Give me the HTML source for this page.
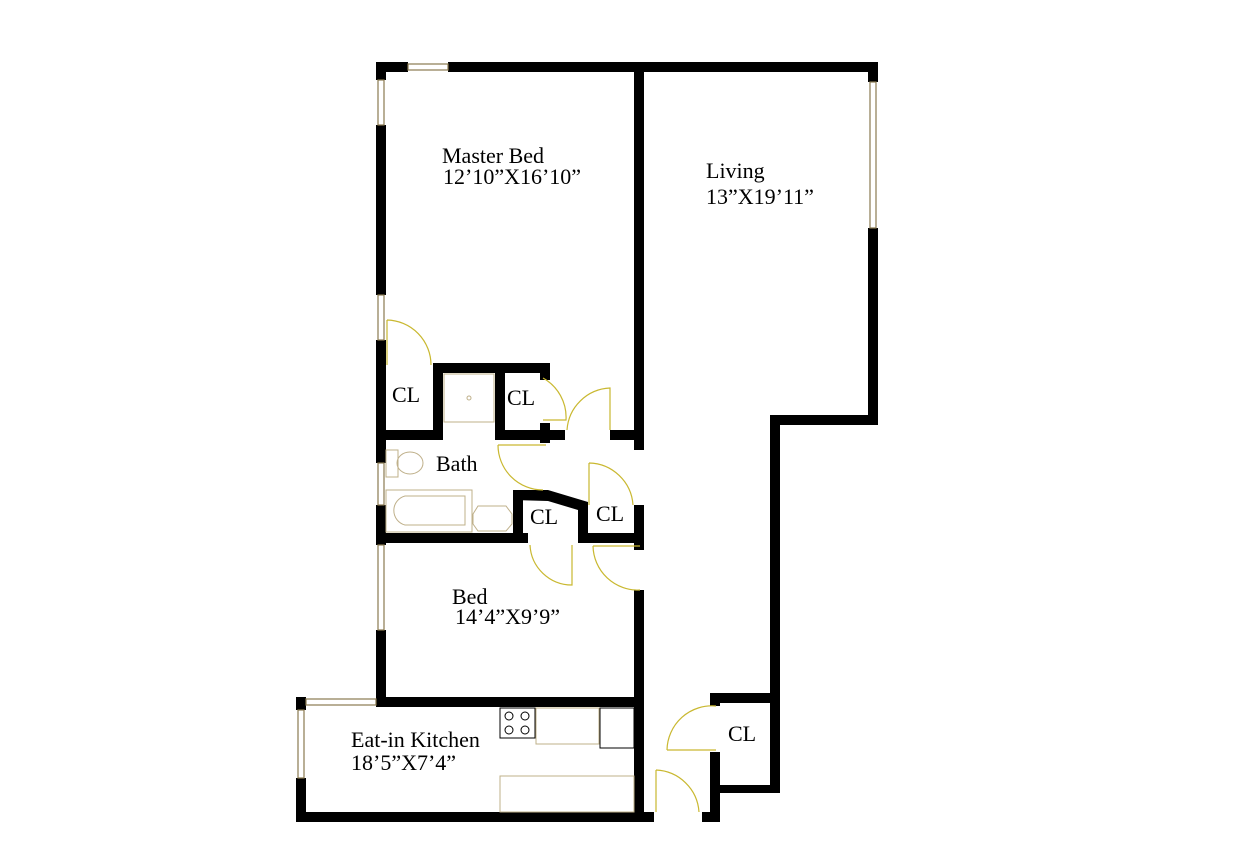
<!DOCTYPE html>
<html><head><style>body{margin:0;background:#fff}svg{display:block}text{font-family:"Liberation Serif",serif;font-size:22px;fill:#000}</style></head>
<body>
<svg width="1256" height="844" viewBox="0 0 1256 844">
<g fill="#000">
<rect x="376" y="62" width="10" height="18"/><rect x="376" y="62" width="32" height="10"/>
<rect x="448" y="62" width="430" height="10"/>
<rect x="868" y="62" width="10" height="20"/><rect x="868" y="228" width="10" height="197"/>
<rect x="770" y="415" width="108" height="10"/><rect x="770" y="415" width="10" height="378"/>
<rect x="710" y="693" width="70" height="10"/><rect x="710" y="693" width="10" height="13"/>
<rect x="710" y="752" width="10" height="70"/><rect x="710" y="785" width="70" height="8"/>
<rect x="702" y="812" width="18" height="10"/>
<rect x="296" y="812" width="358" height="10"/>
<rect x="296" y="697" width="10" height="13"/><rect x="296" y="778" width="10" height="44"/>
<rect x="296" y="697" width="10" height="10"/><rect x="376" y="697" width="268" height="10"/>
<rect x="376" y="125" width="10" height="170"/><rect x="376" y="340" width="10" height="123"/>
<rect x="376" y="505" width="10" height="40"/><rect x="376" y="630" width="10" height="77"/>
<rect x="634" y="72" width="10" height="378"/><rect x="634" y="505" width="10" height="45"/>
<rect x="634" y="590" width="10" height="232"/>
<rect x="376" y="430" width="67" height="10"/>
<rect x="433" y="363" width="117" height="10"/>
<rect x="433" y="363" width="10" height="77"/><rect x="495" y="363" width="10" height="77"/>
<rect x="540" y="363" width="10" height="17"/>
<rect x="495" y="430" width="70" height="10"/><rect x="540" y="423" width="10" height="20"/>
<rect x="610" y="430" width="34" height="10"/>
<rect x="376" y="533" width="152" height="10"/>
<rect x="513" y="490" width="10" height="53"/>
<polygon points="513,490 548,490 588,502 588,513 548,501 513,500"/>
<rect x="578" y="505" width="10" height="38"/>
<rect x="578" y="533" width="66" height="10"/>
</g>
<g fill="#fff" stroke="#8a7a50" stroke-width="1.2">
<rect x="408" y="64" width="40" height="6"/><rect x="378" y="80" width="6" height="45"/>
<rect x="870" y="82" width="6" height="146"/><rect x="378" y="295" width="6" height="45"/>
<rect x="378" y="463" width="6" height="42"/><rect x="378" y="545" width="6" height="85"/>
<rect x="306" y="699" width="70" height="6"/><rect x="298" y="710" width="6" height="68"/>
</g>
<g fill="none" stroke="#c9b830" stroke-width="1.2">
<path d="M387 320 A45 45 0 0 1 431 365 M387 320 V365"/>
<path d="M543 378 A45 45 0 0 1 566 420 H543"/>
<path d="M610 430 V388 A45 45 0 0 0 567 430"/>
<path d="M498 445 H546 M498 445 A45 45 0 0 0 543 490"/>
<path d="M589 463 A45 45 0 0 1 633 505 M589 463 V505"/>
<path d="M530 545 A42 42 0 0 0 572 585 V545"/>
<path d="M593 546 H640 M593 546 A45 45 0 0 0 640 590"/>
<path d="M667 750 A45 45 0 0 1 716 706 M667 750 H716"/>
<path d="M656 770 A45 45 0 0 1 699 812 M656 770 V812"/>
</g>
<g fill="none" stroke="#bfb08a" stroke-width="1">
<rect x="444" y="374" width="50" height="48"/><circle cx="469" cy="398" r="2"/>
<rect x="386" y="450" width="12" height="27"/><ellipse cx="410" cy="463" rx="13" ry="11"/>
<rect x="386" y="490" width="86" height="42"/>
<path d="M405 496 H465 V525 H405 A15 15 0 0 1 405 496Z"/>
<path d="M478 506 H506 L512 514 V524 L506 531 H478 L473 524 V514Z"/>
<rect x="536" y="708" width="63" height="36"/><rect x="500" y="776" width="134" height="36"/>
</g>
<g fill="none" stroke="#000" stroke-width="1">
<rect x="500" y="708" width="35" height="30"/>
<circle cx="509" cy="716" r="4"/><circle cx="525" cy="716" r="4"/>
<circle cx="509" cy="730" r="4"/><circle cx="525" cy="730" r="4"/>
<rect x="600" y="708" width="34" height="40"/>
</g>
<text x="442" y="163">Master Bed</text>
<text x="443" y="184">12’10”X16’10”</text>
<text x="706" y="178">Living</text>
<text x="706" y="204">13”X19’11”</text>
<text x="392" y="402">CL</text>
<text x="507" y="405">CL</text>
<text x="436" y="471">Bath</text>
<text x="530" y="524">CL</text>
<text x="596" y="521">CL</text>
<text x="452" y="604">Bed</text>
<text x="455" y="624">14’4”X9’9”</text>
<text x="351" y="747">Eat-in Kitchen</text>
<text x="351" y="770">18’5”X7’4”</text>
<text x="728" y="741">CL</text>
</svg>
</body></html>
